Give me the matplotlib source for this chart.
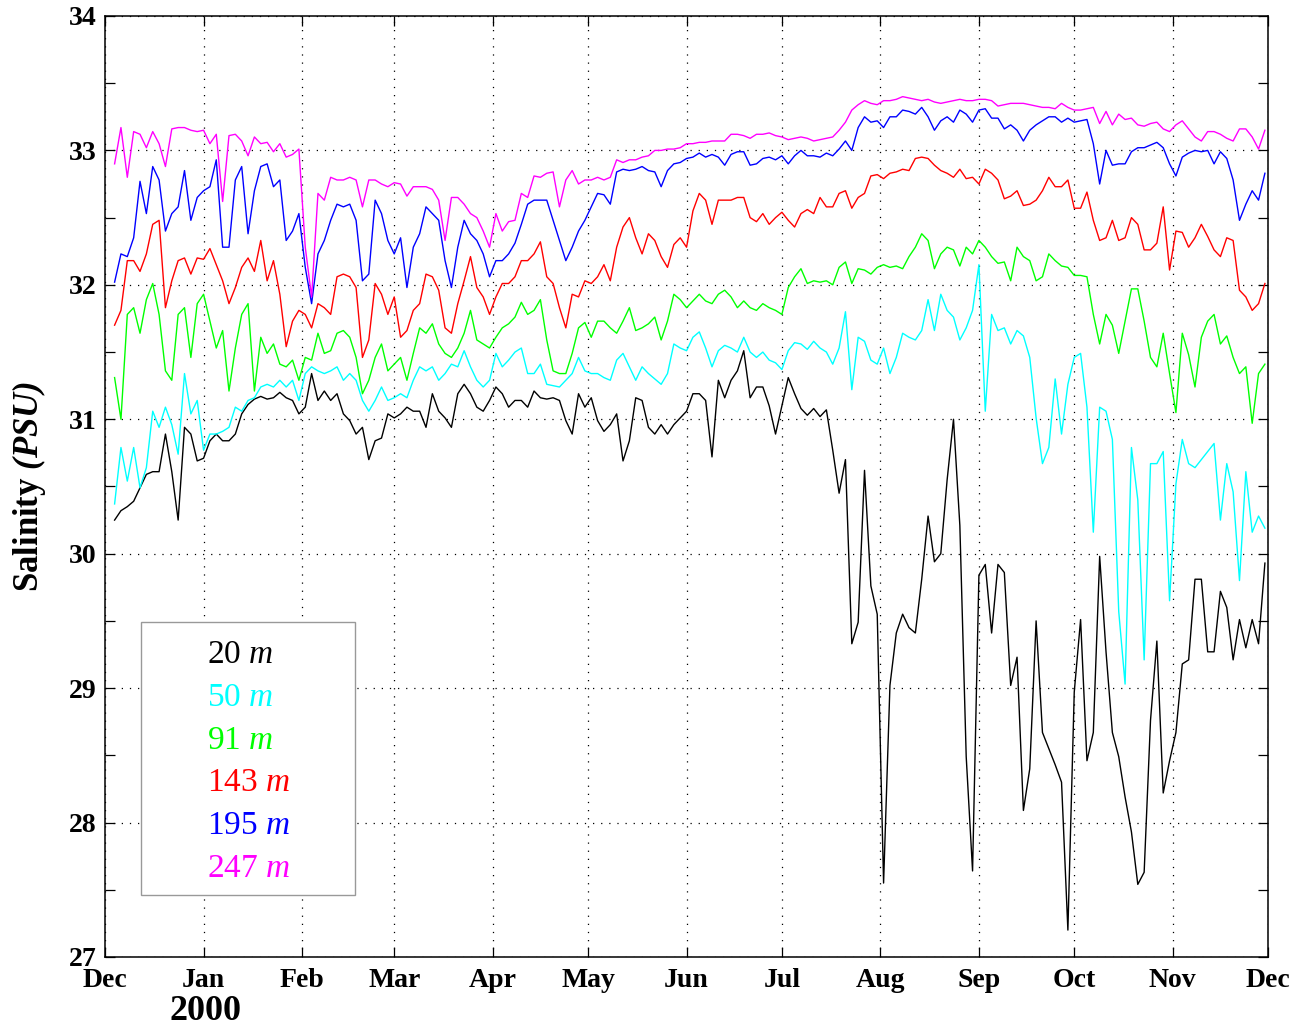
import numpy as np
import matplotlib.pyplot as plt
from matplotlib.patches import Rectangle
from matplotlib.ticker import MultipleLocator

plt.rcParams['font.family'] = 'Liberation Serif'
plt.rcParams['mathtext.fontset'] = 'custom'
plt.rcParams['mathtext.rm'] = 'Liberation Serif'
plt.rcParams['mathtext.it'] = 'Liberation Serif:italic'
plt.rcParams['mathtext.bf'] = 'Liberation Serif:bold'
plt.rcParams['mathtext.bfit'] = 'Liberation Serif:italic:bold'

# time axis: days since 1 Dec 1999, one sample every 2 days
t0 = np.datetime64('1999-12-01')
days = np.arange(3, 366, 2)

# salinity (PSU) at each mooring depth
s20 = np.array([
    30.25, 30.32, 30.35, 30.39, 30.49, 30.59, 30.61, 30.61, 30.89, 30.61, 30.25, 30.94, 30.89, 30.69, 30.71,
    30.84, 30.89, 30.84, 30.84, 30.89, 31.04, 31.11, 31.15, 31.17, 31.15, 31.16, 31.20, 31.16, 31.14, 31.04,
    31.09, 31.34, 31.14, 31.21, 31.14, 31.19, 31.04, 30.99, 30.89, 30.94, 30.70, 30.84, 30.86, 31.04, 31.01,
    31.04, 31.09, 31.06, 31.06, 30.94, 31.19, 31.06, 31.01, 30.94, 31.19, 31.26, 31.19, 31.09, 31.06, 31.14, 31.24,
    31.19, 31.09, 31.14, 31.14, 31.09, 31.21, 31.16, 31.15, 31.16, 31.14, 30.99, 30.89, 31.19, 31.09, 31.16,
    30.99, 30.91, 30.96, 31.04, 30.69, 30.84, 31.16, 31.14, 30.94, 30.89, 30.96, 30.89, 30.96, 31.01, 31.06,
    31.19, 31.19, 31.14, 30.72, 31.29, 31.16, 31.29, 31.36, 31.51, 31.16, 31.24, 31.24, 31.10, 30.89, 31.10,
    31.31, 31.19, 31.08, 31.03, 31.08, 31.02, 31.07, 30.77, 30.45, 30.70, 29.33, 29.49, 30.62, 29.76, 29.55, 27.55,
    29.02, 29.41, 29.55, 29.45, 29.41, 29.81, 30.28, 29.94, 30.00, 30.55, 31.00, 30.21, 28.49, 27.64, 29.84,
    29.92, 29.41, 29.92, 29.86, 29.02, 29.23, 28.09, 28.40, 29.50, 28.67, 28.55, 28.43, 28.30, 27.20, 28.97, 29.51,
    28.46, 28.67, 29.98, 29.27, 28.67, 28.49, 28.19, 27.93, 27.54, 27.63, 28.76, 29.35, 28.22, 28.46, 28.67,
    29.18, 29.21, 29.81, 29.81, 29.27, 29.27, 29.72, 29.60, 29.21, 29.51, 29.30, 29.51, 29.33, 29.93])

s50 = np.array([
    30.37, 30.79, 30.54, 30.79, 30.49, 30.64, 31.06, 30.94, 31.09, 30.96, 30.74, 31.34, 31.04, 31.14, 30.77,
    30.89, 30.89, 30.91, 30.94, 31.09, 31.06, 31.14, 31.16, 31.24, 31.26, 31.24, 31.29, 31.24, 31.29, 31.14,
    31.34, 31.39, 31.36, 31.34, 31.36, 31.39, 31.29, 31.34, 31.29, 31.14, 31.06, 31.14, 31.24, 31.14, 31.16,
    31.19, 31.16, 31.29, 31.39, 31.36, 31.39, 31.29, 31.34, 31.41, 31.39, 31.51, 31.39, 31.29, 31.24, 31.29, 31.49,
    31.39, 31.44, 31.50, 31.53, 31.34, 31.34, 31.41, 31.26, 31.25, 31.24, 31.29, 31.34, 31.46, 31.36, 31.34,
    31.34, 31.31, 31.29, 31.44, 31.49, 31.39, 31.29, 31.39, 31.34, 31.30, 31.26, 31.34, 31.56, 31.53, 31.51,
    31.61, 31.65, 31.53, 31.39, 31.51, 31.55, 31.53, 31.50, 31.61, 31.50, 31.46, 31.50, 31.44, 31.42, 31.37,
    31.51, 31.57, 31.56, 31.52, 31.58, 31.53, 31.50, 31.41, 31.53, 31.80, 31.22, 31.61, 31.58, 31.44, 31.41, 31.53,
    31.34, 31.46, 31.64, 31.61, 31.59, 31.66, 31.89, 31.66, 31.93, 31.81, 31.76, 31.59, 31.68, 31.81, 32.15,
    31.06, 31.78, 31.66, 31.68, 31.56, 31.66, 31.62, 31.46, 31.01, 30.67, 30.79, 31.30, 30.89, 31.26, 31.46, 31.49,
    31.09, 30.16, 31.09, 31.06, 30.85, 29.57, 29.03, 30.79, 30.40, 29.21, 30.67, 30.67, 30.76, 29.65, 30.52,
    30.85, 30.67, 30.64, 30.70, 30.76, 30.82, 30.25, 30.67, 30.46, 29.80, 30.61, 30.16, 30.28, 30.19])

s91 = np.array([
    31.31, 31.00, 31.78, 31.83, 31.64, 31.89, 32.01, 31.78, 31.36, 31.29, 31.78, 31.83, 31.46, 31.86, 31.93,
    31.73, 31.53, 31.66, 31.21, 31.53, 31.78, 31.86, 31.21, 31.61, 31.49, 31.56, 31.41, 31.39, 31.44, 31.29,
    31.46, 31.44, 31.64, 31.49, 31.51, 31.64, 31.66, 31.61, 31.46, 31.19, 31.29, 31.46, 31.56, 31.36, 31.41,
    31.46, 31.29, 31.49, 31.68, 31.64, 31.71, 31.56, 31.49, 31.46, 31.53, 31.64, 31.81, 31.59, 31.56, 31.53, 31.61,
    31.68, 31.71, 31.76, 31.87, 31.78, 31.81, 31.89, 31.59, 31.36, 31.34, 31.34, 31.49, 31.68, 31.72, 31.61,
    31.73, 31.73, 31.68, 31.64, 31.73, 31.83, 31.66, 31.68, 31.71, 31.76, 31.59, 31.73, 31.93, 31.89, 31.83,
    31.88, 31.93, 31.88, 31.86, 31.93, 31.96, 31.91, 31.83, 31.88, 31.83, 31.81, 31.86, 31.83, 31.81, 31.78,
    31.98, 32.06, 32.12, 32.01, 32.03, 32.02, 32.03, 32.00, 32.13, 32.17, 32.01, 32.12, 32.11, 32.08, 32.13, 32.15,
    32.13, 32.14, 32.12, 32.21, 32.28, 32.38, 32.33, 32.12, 32.23, 32.28, 32.26, 32.14, 32.28, 32.23, 32.33,
    32.28, 32.21, 32.16, 32.17, 32.03, 32.28, 32.21, 32.18, 32.03, 32.06, 32.23, 32.18, 32.14, 32.13, 32.07, 32.07,
    32.06, 31.78, 31.56, 31.78, 31.70, 31.49, 31.73, 31.97, 31.97, 31.73, 31.46, 31.39, 31.64, 31.34, 31.05,
    31.64, 31.48, 31.24, 31.61, 31.73, 31.78, 31.56, 31.62, 31.46, 31.34, 31.39, 30.97, 31.34, 31.41])

s143 = np.array([
    31.70, 31.81, 32.18, 32.18, 32.10, 32.23, 32.45, 32.48, 31.83, 32.03, 32.18, 32.20, 32.08, 32.20, 32.19,
    32.27, 32.15, 32.03, 31.86, 31.98, 32.13, 32.20, 32.10, 32.33, 32.03, 32.18, 31.93, 31.54, 31.73, 31.81,
    31.78, 31.68, 31.86, 31.83, 31.78, 32.06, 32.08, 32.06, 31.98, 31.46, 31.59, 32.01, 31.93, 31.78, 31.91,
    31.61, 31.66, 31.81, 31.86, 32.08, 32.06, 31.96, 31.68, 31.64, 31.86, 32.03, 32.21, 31.98, 31.91, 31.78, 31.91,
    32.01, 32.01, 32.06, 32.18, 32.18, 32.23, 32.32, 32.06, 32.01, 31.83, 31.68, 31.93, 31.91, 32.03, 32.01,
    32.06, 32.15, 32.03, 32.28, 32.43, 32.50, 32.35, 32.23, 32.38, 32.33, 32.21, 32.13, 32.30, 32.35, 32.28,
    32.55, 32.68, 32.63, 32.45, 32.63, 32.63, 32.63, 32.65, 32.65, 32.50, 32.47, 32.53, 32.45, 32.50, 32.54,
    32.48, 32.43, 32.53, 32.56, 32.53, 32.65, 32.58, 32.58, 32.68, 32.70, 32.57, 32.65, 32.68, 32.81, 32.82, 32.79,
    32.83, 32.84, 32.86, 32.85, 32.94, 32.95, 32.94, 32.89, 32.85, 32.83, 32.80, 32.86, 32.79, 32.80, 32.75,
    32.86, 32.83, 32.78, 32.64, 32.66, 32.70, 32.59, 32.60, 32.63, 32.70, 32.80, 32.73, 32.73, 32.78, 32.57, 32.57,
    32.69, 32.48, 32.33, 32.35, 32.48, 32.33, 32.35, 32.50, 32.45, 32.26, 32.26, 32.31, 32.58, 32.11, 32.40,
    32.39, 32.28, 32.35, 32.45, 32.36, 32.26, 32.21, 32.35, 32.33, 31.96, 31.91, 31.81, 31.86, 32.01])

s195 = np.array([
    32.02, 32.23, 32.21, 32.35, 32.77, 32.53, 32.88, 32.78, 32.40, 32.53, 32.58, 32.85, 32.48, 32.65, 32.70,
    32.73, 32.93, 32.28, 32.28, 32.78, 32.88, 32.38, 32.70, 32.88, 32.90, 32.73, 32.78, 32.33, 32.40, 32.53,
    32.13, 31.86, 32.23, 32.33, 32.48, 32.60, 32.58, 32.60, 32.48, 32.03, 32.08, 32.63, 32.53, 32.33, 32.23,
    32.35, 31.98, 32.28, 32.38, 32.58, 32.53, 32.48, 32.18, 31.98, 32.28, 32.48, 32.38, 32.33, 32.23, 32.06, 32.18,
    32.18, 32.23, 32.31, 32.45, 32.60, 32.63, 32.63, 32.63, 32.48, 32.33, 32.18, 32.28, 32.40, 32.48, 32.58,
    32.68, 32.67, 32.60, 32.84, 32.86, 32.85, 32.86, 32.88, 32.85, 32.84, 32.73, 32.85, 32.90, 32.91, 32.94,
    32.95, 32.98, 32.95, 32.97, 32.95, 32.89, 32.97, 32.99, 32.99, 32.89, 32.90, 32.94, 32.95, 32.93, 32.96,
    32.90, 32.96, 33.00, 32.96, 32.96, 32.95, 32.98, 32.96, 33.01, 33.07, 33.00, 33.17, 33.25, 33.21, 33.22, 33.17,
    33.25, 33.25, 33.30, 33.29, 33.27, 33.32, 33.25, 33.15, 33.22, 33.25, 33.21, 33.30, 33.27, 33.21, 33.30,
    33.31, 33.24, 33.24, 33.16, 33.19, 33.15, 33.07, 33.15, 33.19, 33.22, 33.25, 33.25, 33.21, 33.24, 33.21, 33.22,
    33.23, 33.05, 32.75, 33.00, 32.89, 32.90, 32.90, 32.99, 33.02, 33.02, 33.04, 33.06, 33.02, 32.90, 32.81,
    32.95, 32.98, 33.00, 32.99, 33.00, 32.90, 32.99, 32.94, 32.78, 32.48, 32.60, 32.70, 32.63, 32.83])

s247 = np.array([
    32.90, 33.17, 32.80, 33.14, 33.12, 33.02, 33.14, 33.05, 32.88, 33.16, 33.17, 33.17, 33.15, 33.14, 33.15,
    33.05, 33.12, 32.62, 33.11, 33.12, 33.07, 32.96, 33.10, 33.05, 33.06, 32.99, 33.05, 32.95, 32.97, 33.01,
    32.28, 31.91, 32.68, 32.63, 32.80, 32.78, 32.78, 32.80, 32.78, 32.58, 32.78, 32.78, 32.75, 32.73, 32.76,
    32.75, 32.66, 32.73, 32.73, 32.73, 32.71, 32.63, 32.33, 32.65, 32.65, 32.60, 32.53, 32.50, 32.40, 32.28, 32.53,
    32.40, 32.47, 32.48, 32.68, 32.65, 32.81, 32.80, 32.83, 32.84, 32.58, 32.78, 32.85, 32.75, 32.78, 32.78,
    32.80, 32.78, 32.80, 32.93, 32.91, 32.93, 32.93, 32.95, 32.96, 33.00, 33.00, 33.01, 33.01, 33.02, 33.05,
    33.05, 33.06, 33.06, 33.07, 33.07, 33.07, 33.12, 33.12, 33.11, 33.09, 33.12, 33.12, 33.13, 33.11, 33.10,
    33.08, 33.09, 33.10, 33.09, 33.07, 33.08, 33.09, 33.10, 33.15, 33.21, 33.30, 33.34, 33.37, 33.35, 33.34, 33.37,
    33.37, 33.38, 33.40, 33.39, 33.38, 33.37, 33.38, 33.36, 33.35, 33.36, 33.37, 33.38, 33.37, 33.37, 33.38,
    33.38, 33.37, 33.33, 33.34, 33.35, 33.35, 33.35, 33.34, 33.33, 33.32, 33.32, 33.31, 33.35, 33.32, 33.30, 33.30,
    33.31, 33.32, 33.20, 33.29, 33.19, 33.27, 33.23, 33.24, 33.19, 33.18, 33.20, 33.21, 33.16, 33.14, 33.19,
    33.22, 33.16, 33.10, 33.07, 33.14, 33.14, 33.12, 33.09, 33.07, 33.16, 33.16, 33.10, 33.01, 33.15])

depths = ['20', '50', '91', '143', '195', '247']
series = [s20, s50, s91, s143, s195, s247]
colors = ['#000000', '#00ffff', '#00ff00', '#ff0000', '#0000ff', '#ff00ff']

month_starts = np.arange('1999-12', '2001-01', dtype='datetime64[M]')
month_days = (month_starts.astype('datetime64[D]') - t0).astype(int)
month_names = ['Dec', 'Jan', 'Feb', 'Mar', 'Apr', 'May', 'Jun',
               'Jul', 'Aug', 'Sep', 'Oct', 'Nov', 'Dec']

fig = plt.figure(figsize=(13.1, 10.31), dpi=100)
ax = fig.add_axes([0.0802, 0.0718, 0.8878, 0.9127])

for s, c in zip(series, colors):
    ax.plot(days, s, color=c, lw=1.0)

ax.set_xlim(0, 366)
ax.set_ylim(27, 34)
ax.set_xticks(month_days)
ax.set_xticklabels(month_names)
ax.yaxis.set_major_locator(MultipleLocator(1))
ax.yaxis.set_minor_locator(MultipleLocator(0.5))
ax.grid(True, which='major', color='k', lw=0.9, linestyle=(0, (1, 5.5)))
ax.tick_params(which='both', direction='in', length=7.5, width=0.9,
               top=True, right=True, labelsize=20)
ax.tick_params(axis='x', pad=8)
ax.tick_params(axis='y', pad=6)
for lab in ax.get_xticklabels() + ax.get_yticklabels():
    lab.set_fontweight('bold')
for sp in ax.spines.values():
    sp.set_linewidth(1.1)

ax.set_ylabel(r'Salinity $\mathbfit{(PSU)}$', fontsize=25, fontweight='bold')
ax.yaxis.set_label_coords(-0.049, 0.5)
fig.text(0.1565, 0.0107, '2000', ha='center', va='baseline', fontsize=26, fontweight='bold')

# legend box with coloured depth labels
ax.add_patch(Rectangle((0.031, 0.066), 0.184, 0.290, transform=ax.transAxes,
                       facecolor='white', edgecolor='#999999', lw=1.0, zorder=5))
for i, (d, c) in enumerate(zip(depths, colors)):
    ax.text(0.0877, 0.321 - i * 0.0454, d + r' $\mathit{m}$', transform=ax.transAxes,
            color=c, fontsize=24, va='center', ha='left', zorder=6)

fig.savefig('out.png', dpi=100)
